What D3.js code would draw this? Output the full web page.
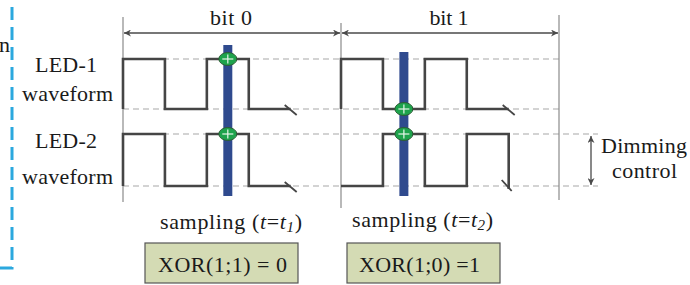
<!DOCTYPE html>
<html><head><meta charset="utf-8">
<script src="https://cdn.jsdelivr.net/npm/d3@7"></script>
<style>body{margin:0;background:#fff}svg{display:block}text{font-family:"Liberation Serif","Times New Roman",serif;fill:#1a1a1a}</style>
</head><body><svg id="c" width="690" height="285"></svg>
<script>
// ---- data ----
const bitLabels = ["bit 0", "bit 1"];
const bitLength = 5.2;                       // in half-period units
const led1Levels = [[1, 0, 1, 0], [1, 0, 1, 0]];
const led2Levels = [[1, 0, 1, 0], [0, 1, 0, 1]];
const endLevel2 = [null, 0];                 // LED-2 bit 1 falls at the end
const sampleOffsets = [2.5, 1.5];            // sampling instants within each bit
const samplingSubs = ["1", "2"];
const xorLabels = ["XOR(1;1) = 0", "XOR(1;0) =1"];
const rowLabels = [["LED-1", "waveform"], ["LED-2", "waveform"]];
const dimmingLabel = ["Dimming", "control"];

// ---- scales ----
const svg = d3.select("#c");
const x = d3.scaleLinear().domain([0, 2 * bitLength]).range([123, 559]);
const yRows = [
  d3.scaleLinear().domain([0, 1]).range([109, 59]),
  d3.scaleLinear().domain([0, 1]).range([186, 134])
];
const waveColor = "#454545", dashColor = "#a8a8a8", gridColor = "#8a8a8a";
const FS = 22;

function label(xp, yp, str, len, anchor) {
  const t = svg.append("text").attr("x", xp).attr("y", yp).attr("font-size", FS)
    .attr("text-anchor", anchor || "middle").text(str);
  if (len) t.attr("textLength", len).attr("lengthAdjust", "spacing");
  return t;
}

// arrow markers
const defs = svg.append("defs");
defs.append("marker").attr("id", "arr").attr("viewBox", "0 0 10 10")
  .attr("refX", 10).attr("refY", 5).attr("markerWidth", 9).attr("markerHeight", 7)
  .attr("markerUnits", "userSpaceOnUse").attr("orient", "auto-start-reverse")
  .append("path").attr("d", "M0,0 L10,5 L0,10 L3,5 Z").attr("fill", "#4a4a4a");

// left blue dashed frame
svg.append("path").attr("d", "M0,268 H12 V0").attr("fill", "none")
  .attr("stroke", "#2ba8de").attr("stroke-width", 3).attr("stroke-dasharray", "13,7");
label(-1, 52, "n", null, "start");

// dashed level lines
yRows.forEach((ys, r) => {
  [0, 1].forEach(l => {
    svg.append("line").attr("x1", x(0)).attr("x2", r === 0 ? x(2 * bitLength) : 598)
      .attr("y1", ys(l)).attr("y2", ys(l))
      .attr("stroke", dashColor).attr("stroke-width", 1.2).attr("stroke-dasharray", "6,4");
  });
});

// bit boundary lines
[0, 1, 2].forEach(i => {
  svg.append("line").attr("x1", x(i * bitLength)).attr("x2", x(i * bitLength))
    .attr("y1", [17, 23, 15][i]).attr("y2", [202, 208, 200][i])
    .attr("stroke", gridColor).attr("stroke-width", 1.2);
});

// bit span arrows and labels
bitLabels.forEach((b, i) => {
  const x0 = x(i * bitLength), x1 = x((i + 1) * bitLength);
  svg.append("line").attr("x1", x0 + 1).attr("x2", x1 - 1).attr("y1", 33).attr("y2", 33)
    .attr("stroke", "#4a4a4a").attr("stroke-width", 1.3)
    .attr("marker-start", "url(#arr)").attr("marker-end", "url(#arr)");
  label((x0 + x1) / 2 - 1, 25, b, i === 0 ? 42 : 39);
});

// sampling bars
sampleOffsets.forEach((s, i) => {
  const xc = x(i * bitLength + s);
  const top = i === 0 ? 45 : 52;
  svg.append("rect").attr("x", xc - 4.5).attr("width", 9)
    .attr("y", top).attr("height", 196 - top).attr("fill", "#2f4a8e");
});

// waveforms
const line = d3.line().x(d => x(d[0])).y(d => d[1]);
[led1Levels, led2Levels].forEach((levels, r) => {
  const ys = yRows[r];
  levels.forEach((lv, b) => {
    const t0 = b * bitLength;
    const pts = [];
    if (lv[0] === 1) pts.push([t0, ys(0)]);
    lv.forEach((v, k) => { pts.push([t0 + k, ys(v)]); pts.push([t0 + k + 1, ys(v)]); });
    const tEnd = t0 + lv.length;
    let tick;
    if (r === 1 && endLevel2[b] !== null) {
      pts.push([tEnd, ys(endLevel2[b]) + 3]);
      const xe = x(tEnd), ye = ys(endLevel2[b]);
      tick = [[xe - 7, ye - 6], [xe + 3, ye + 5]];
    } else {
      const xe = x(tEnd), ye = ys(lv[lv.length - 1]);
      tick = [[xe - 6, ye - 4], [xe + 6, ye + 6]];
    }
    svg.append("path").attr("d", line(pts)).attr("fill", "none")
      .attr("stroke", waveColor).attr("stroke-width", 2.6).attr("stroke-linejoin", "miter");
    svg.append("line").attr("x1", tick[0][0]).attr("y1", tick[0][1])
      .attr("x2", tick[1][0]).attr("y2", tick[1][1])
      .attr("stroke", waveColor).attr("stroke-width", 1.8);
  });
});

// sample points (green ellipses)
sampleOffsets.forEach((s, i) => {
  const xc = x(i * bitLength + s);
  const k = Math.floor(s);
  [led1Levels, led2Levels].forEach((levels, r) => {
    const yc = yRows[r](levels[i][k]);
    const g = svg.append("g").attr("transform", `translate(${xc},${yc})`);
    g.append("ellipse").attr("rx", 9).attr("ry", 6.5).attr("fill", "#1ea34c")
      .attr("stroke", "#2d5b34").attr("stroke-width", 1);
    g.append("line").attr("x1", -5.5).attr("x2", 5.5).attr("y1", 0).attr("y2", 0)
      .attr("stroke", "#e8f5ea").attr("stroke-width", 1.2);
    g.append("line").attr("x1", 0).attr("x2", 0).attr("y1", -4.5).attr("y2", 4.5)
      .attr("stroke", "#e8f5ea").attr("stroke-width", 1.2);
  });
});

// row labels
rowLabels.forEach((lab, r) => {
  label(66, r === 0 ? 72 : 148, lab[0], 62);
  label(67.5, r === 0 ? 101 : 184, lab[1], 91);
});

// dimming control
svg.append("line").attr("x1", 591).attr("x2", 591).attr("y1", 136).attr("y2", 185)
  .attr("stroke", "#4a4a4a").attr("stroke-width", 1.3)
  .attr("marker-start", "url(#arr)").attr("marker-end", "url(#arr)");
label(644, 153, dimmingLabel[0], 86);
label(644.5, 178, dimmingLabel[1], 65);

// sampling labels
samplingSubs.forEach((sub, i) => {
  const t = svg.append("text").attr("x", i === 0 ? 160 : 352).attr("y", i === 0 ? 229 : 227)
    .attr("font-size", FS).attr("textLength", i === 0 ? 142 : 141).attr("lengthAdjust", "spacing");
  t.append("tspan").text("sampling (");
  t.append("tspan").attr("font-style", "italic").text("t");
  t.append("tspan").text("=");
  t.append("tspan").attr("font-style", "italic").text("t");
  t.append("tspan").attr("font-style", "italic").attr("font-size", 15).attr("dy", 3).text(sub);
  t.append("tspan").attr("dy", -3).text(")");
});

// XOR boxes
xorLabels.forEach((lab, i) => {
  const bx = i === 0 ? 145 : 347;
  svg.append("rect").attr("x", bx).attr("y", 243).attr("width", 153).attr("height", 40)
    .attr("fill", "#d4dbb4").attr("stroke", "#555").attr("stroke-width", 1.2);
  label(i === 0 ? 222.5 : 419.5, 272, lab, i === 0 ? 129 : 121);
});
</script></body></html>
